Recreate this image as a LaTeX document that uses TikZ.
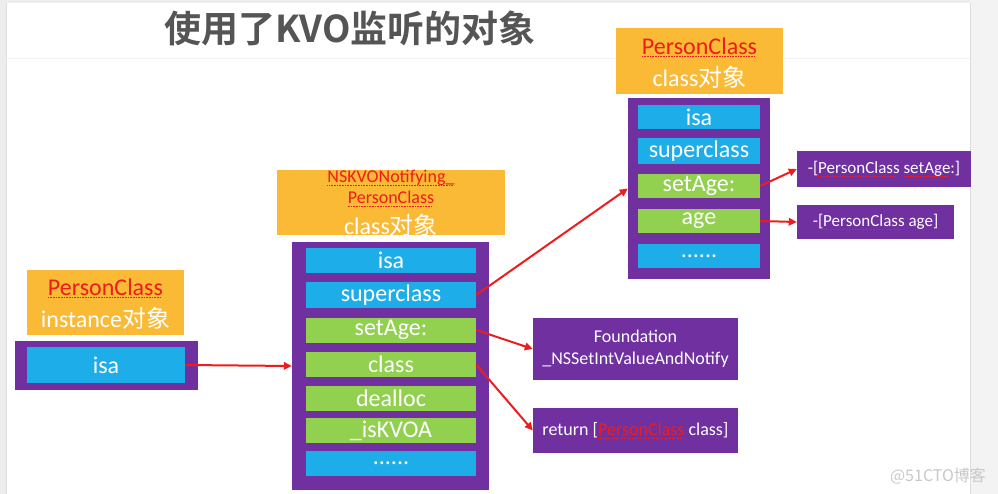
\documentclass[tikz,border=0pt]{standalone}
\usepackage{fontspec}
\setmainfont{Carlito}
\newfontfamily\cjk{Noto Sans CJK SC}[BoldFont={Noto Sans CJK SC Bold}]
\usetikzlibrary{arrows.meta}
\definecolor{korange}{HTML}{FBBA35}
\definecolor{kpurple}{HTML}{7030A0}
\definecolor{kblue}{HTML}{1DAEEA}
\definecolor{kgreen}{HTML}{92D050}
\definecolor{kred}{HTML}{EE1C1C}
\definecolor{ktitle}{HTML}{555555}
\definecolor{kband}{HTML}{EDEDED}
\definecolor{kbandline}{HTML}{DDDDDD}
\definecolor{kmark}{HTML}{C8C8C8}
\newsavebox\squigbox
\newcommand\squig[1]{\sbox\squigbox{#1}\leavevmode\rlap{\color{kred}\raisebox{-2.5pt}{\hbox to \wd\squigbox{\leaders\hbox{\rule{0.8pt}{0.5pt}\hskip0.8pt}\hfill}}}\usebox\squigbox}
\tikzset{
  hdrbox/.style={fill=korange, draw=none, inner sep=0pt},
  panelbox/.style={fill=kpurple, draw=none, inner sep=0pt},
  rowbase/.style={draw=none, inner sep=0pt, text=white, font=\fontsize{24}{28}\selectfont},
  bluerow/.style={rowbase, fill=kblue},
  greenrow/.style={rowbase, fill=kgreen},
  infobox/.style={fill=kpurple, draw=none, inner sep=0pt, text=white, align=center, font=\fontsize{18}{22}\selectfont},
  redlbl/.style={inner sep=0pt, text=kred, font=\fontsize{24}{28}\selectfont},
  smallred/.style={inner sep=0pt, text=kred, font=\fontsize{18}{22}\selectfont},
  whitelbl/.style={inner sep=0pt, text=white, font=\fontsize{24}{28}\selectfont},
  link/.style={draw=kred, line width=2pt, -{Triangle[length=8pt,width=7.5pt]}}
}
\begin{document}
\begin{tikzpicture}[x=1pt,y=-1pt]
\useasboundingbox (0,0) rectangle (998,494);
% page background
\fill[white] (0,0) rectangle (998,494);
\fill[kband] (0,0) rectangle (6,494);
\draw[kbandline, line width=0.8pt] (6,0) -- (6,494);
\fill[kband] (0,0) rectangle (998,3);
\fill[kband!70] (970,0) rectangle (998,494);
\draw[kbandline, line width=0.8pt] (970.5,3) -- (970.5,494);
\draw[black!5, line width=0.8pt] (7,58) -- (970,58);

% title
\node[inner sep=0pt, text=ktitle, font=\cjk\bfseries\fontsize{37}{40}\selectfont] (title) at (350,28) {使用了KVO监听的对象};

% left: instance object
\node[hdrbox, minimum width=157pt, minimum height=65pt] (lh) at (105.5,302.5) {};
\node[redlbl] (lhname) at (105.5,288) {\squig{PersonClass}};
\node[whitelbl] (lhkind) at (105.5,318) {instance{\cjk 对象}};
\node[panelbox, minimum width=183pt, minimum height=49pt] (lp) at (106.5,365.5) {};
\node[bluerow, minimum width=158pt, minimum height=36pt] (l-isa) at (106,365) {isa};

% middle: NSKVONotifying_PersonClass class object
\node[hdrbox, minimum width=228pt, minimum height=65pt] (mh) at (391,202.5) {};
\node[smallred] (mhname1) at (391,178) {\squig{NSKVONotifying\_}};
\node[smallred] (mhname2) at (391,199) {\squig{PersonClass}};
\node[whitelbl] (mhkind) at (391,225) {class{\cjk 对象}};
\node[panelbox, minimum width=197pt, minimum height=248pt] (mp) at (390.5,366) {};
\node[bluerow, minimum width=170pt, minimum height=25pt] (m-isa) at (391,260.5) {isa};
\node[bluerow, minimum width=170pt, minimum height=26pt] (m-super) at (391,295) {superclass};
\node[greenrow, minimum width=170pt, minimum height=25pt] (m-set) at (391,330) {setAge:};
\node[greenrow, minimum width=170pt, minimum height=25pt] (m-class) at (391,364.5) {class};
\node[greenrow, minimum width=170pt, minimum height=25pt] (m-dealloc) at (391,398.5) {dealloc};
\node[greenrow, minimum width=170pt, minimum height=25pt] (m-kvoa) at (391,430.5) {\_isKVOA};
\node[bluerow, minimum width=170pt, minimum height=25pt] (m-more) at (391,463.5) {......};

\node[infobox, minimum width=205pt, minimum height=62pt] (found) at (635.5,349) {Foundation\\\_NSSetIntValueAndNotify};
\node[infobox, minimum width=205pt, minimum height=45pt] (ret) at (635.5,430.5) {return [{\color{kred}\squig{PersonClass}} class]};

% right: PersonClass class object
\node[hdrbox, minimum width=167pt, minimum height=66pt] (rh) at (699.5,61) {};
\node[redlbl] (rhname) at (699.5,47) {\squig{PersonClass}};
\node[whitelbl] (rhkind) at (699.5,77) {class{\cjk 对象}};
\node[panelbox, minimum width=142pt, minimum height=181pt] (rp) at (699,188.5) {};
\node[bluerow, minimum width=122pt, minimum height=24pt] (r-isa) at (699,117) {isa};
\node[bluerow, minimum width=122pt, minimum height=26pt] (r-super) at (699,151) {superclass};
\node[greenrow, minimum width=122pt, minimum height=24pt] (r-set) at (699,186) {setAge:};
\node[greenrow, minimum width=122pt, minimum height=24pt] (r-age) at (699,221) {age};
\node[bluerow, minimum width=122pt, minimum height=24pt] (r-more) at (699,256) {......};

\node[infobox, font=\fontsize{17}{20}\selectfont, minimum width=174pt, minimum height=36pt] (rset) at (884,169) {-[\squig{PersonClass} \squig{setAge}:]};
\node[infobox, font=\fontsize{17}{20}\selectfont, minimum width=157pt, minimum height=34pt] (rage) at (875.5,222) {-[\squig{PersonClass} age]};

% connectors
\draw[link] (l-isa.east) -- (mp.west);
\draw[link] (m-super.east) -- (rp.west);
\draw[link] (m-set.east) -- (found.west);
\draw[link] (m-class.east) -- (ret.west);
\draw[link] (r-set.east) -- (rset.west);
\draw[link] (r-age.east) -- (rage.west);

% watermark
\node[inner sep=0pt, text=kmark, font=\cjk\fontsize{16}{18}\selectfont] (wm) at (938,476) {@51CTO博客};
\end{tikzpicture}
\end{document}
